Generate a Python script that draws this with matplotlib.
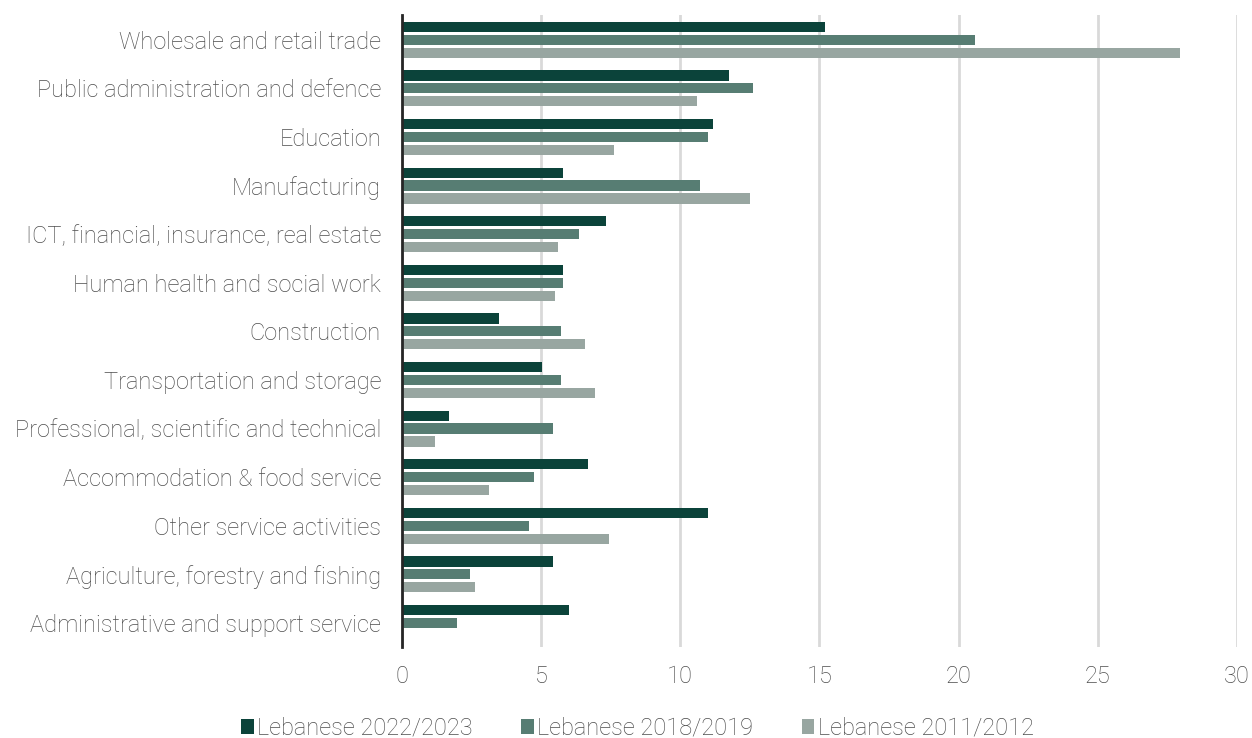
import matplotlib
matplotlib.use("Agg")
import matplotlib.pyplot as plt
import numpy as np

categories = [
    "Wholesale and retail trade",
    "Public administration and defence",
    "Education",
    "Manufacturing",
    "ICT, financial, insurance, real estate",
    "Human health and social work",
    "Construction",
    "Transportation and storage",
    "Professional, scientific and technical",
    "Accommodation & food service",
    "Other service activities",
    "Agriculture, forestry and fishing",
    "Administrative and support service",
]
s2022 = [15.2, 11.76, 11.17, 5.8, 7.34, 5.8, 3.5, 5.04, 1.68, 6.67, 10.98, 5.42, 6.0]
s2018 = [20.58, 12.61, 10.98, 10.7, 6.38, 5.8, 5.71, 5.71, 5.42, 4.75, 4.56, 2.45, 1.97]
s2011 = [27.96, 10.6, 7.63, 12.52, 5.61, 5.51, 6.57, 6.95, 1.2, 3.12, 7.43, 2.64, 0.0]
series_names = ["Lebanese 2022/2023", "Lebanese 2018/2019", "Lebanese 2011/2012"]
xticks = [0, 5, 10, 15, 20, 25, 30]

plt.rcParams["font.family"] = ["Roboto", "DejaVu Sans"]
plt.rcParams["font.weight"] = "light"

colors = ["#0b433a", "#577d73", "#98a6a1"]
txt = "#4d4d4d"

fig = plt.figure(figsize=(12.52, 7.38), dpi=100)
ax = fig.add_axes([0.321, 0.123, 0.667, 0.856])

y = np.arange(len(categories))
h = 0.21
off = 0.265
for i, (vals, c, n) in enumerate(zip([s2022, s2018, s2011], colors, series_names)):
    ax.barh(y + (i - 1) * off, vals, height=h, color=c, label=n, zorder=3)

ax.set_ylim(len(categories) - 0.5, -0.5)
ax.set_xlim(0, 30)
ax.set_xticks(xticks)
ax.set_yticks(y)
ax.set_yticklabels(categories)
ax.tick_params(axis="both", length=0, labelsize=17, colors=txt)
ax.tick_params(axis="y", pad=15)
ax.tick_params(axis="x", pad=13)
ax.grid(axis="x", color="#d9d9d9", linewidth=2, zorder=0)
for s in ["top", "right", "bottom"]:
    ax.spines[s].set_visible(False)
ax.spines["left"].set_color("#262626")
ax.spines["left"].set_linewidth(2)
ax.spines["left"].set_zorder(4)

leg = fig.legend(loc="center", bbox_to_anchor=(0.509, 0.013), ncol=3, frameon=False,
                 fontsize=17, handlelength=0.55, handleheight=0.55, handletextpad=0.13,
                 columnspacing=2.05, labelcolor=txt)
fig.savefig("out.png", dpi=100)
